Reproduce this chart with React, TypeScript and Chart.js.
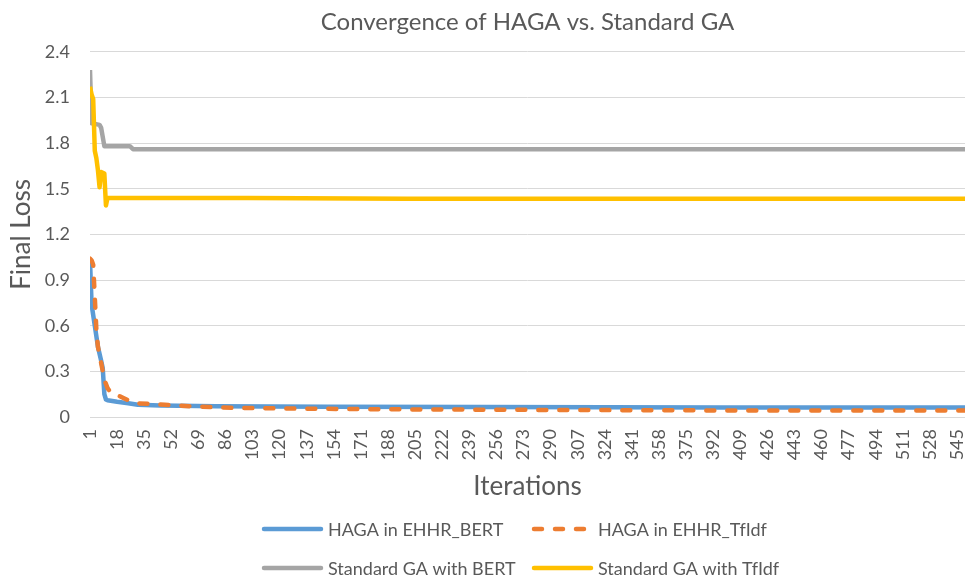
import React, { useEffect, useRef } from 'react';
import { Chart, registerables } from 'chart.js';

Chart.register(...registerables);

// ---- Data ----
const chartTitle = 'Convergence of HAGA vs. Standard GA';
const xTitle = 'Iterations';
const yTitle = 'Final Loss';

const seriesNames = [
  'HAGA in EHHR_BERT',
  'HAGA in EHHR_TfIdf',
  'Standard GA with BERT',
  'Standard GA with TfIdf',
];

const xTickLabels = [
  1, 18, 35, 52, 69, 86, 103, 120, 137, 154, 171, 188, 205, 222, 239, 256, 273,
  290, 307, 324, 341, 358, 375, 392, 409, 426, 443, 460, 477, 494, 511, 528, 545,
];
const yTickLabels = [0, 0.3, 0.6, 0.9, 1.2, 1.5, 1.8, 2.1, 2.4];
const lastIteration = 550;

const hagaBertIter = [1, 2, 4, 6, 8, 9, 10, 11, 12, 18, 25, 31, 45, 80, 150, 250, 400, 550];
const hagaBertLoss = [1.03, 0.74, 0.6, 0.46, 0.37, 0.32, 0.15, 0.115, 0.11, 0.1, 0.09, 0.08, 0.075, 0.07, 0.067, 0.065, 0.063, 0.063];

const hagaTfIdfIter = [1, 2, 3, 4, 5, 6, 8, 10, 12, 14, 20, 25, 31, 48, 69, 90, 130, 200, 300, 400, 550];
const hagaTfIdfLoss = [1.04, 1.03, 1.0, 0.79, 0.57, 0.46, 0.355, 0.245, 0.19, 0.16, 0.135, 0.11, 0.09, 0.08, 0.068, 0.06, 0.055, 0.05, 0.046, 0.043, 0.042];

const gaBertIter = [1, 2, 7, 8, 10, 26, 28, 550];
const gaBertLoss = [2.28, 1.93, 1.92, 1.9, 1.78, 1.78, 1.76, 1.76];

const gaTfIdfIter = [1, 2, 3, 4, 5, 6, 7, 8, 10, 11, 12, 100, 200, 550];
const gaTfIdfLoss = [2.17, 2.12, 2.09, 1.75, 1.7, 1.62, 1.51, 1.61, 1.6, 1.39, 1.44, 1.44, 1.435, 1.435];

const seriesColors = ['#5B9BD5', '#ED7D31', '#A5A5A5', '#FFC000'];
const textColor = '#595959';
const fontFamily = 'Lato, "Open Sans", sans-serif';

const toPoints = (xs: number[], ys: number[]) => xs.map((x, i) => ({ x, y: ys[i] }));

const legendPlugin = {
  id: 'twoRowLegend',
  afterDraw(chart: any) {
    const ctx = chart.ctx as CanvasRenderingContext2D;
    const cols = [262, 532];
    const rows = [529, 568];
    chart.data.datasets.forEach((d: any, i: number) => {
      const x = cols[i % 2];
      const y = rows[Math.floor(i / 2)];
      ctx.save();
      ctx.strokeStyle = d.borderColor;
      ctx.lineWidth = d.borderWidth;
      ctx.lineCap = 'round';
      ctx.setLineDash(d.borderDash || []);
      ctx.beginPath();
      ctx.moveTo(x + 2, y);
      ctx.lineTo(x + 59, y);
      ctx.stroke();
      ctx.setLineDash([]);
      ctx.fillStyle = textColor;
      ctx.font = `18px ${fontFamily}`;
      ctx.textBaseline = 'middle';
      ctx.textAlign = 'left';
      ctx.fillText(d.label, x + 66, y + 1);
      ctx.restore();
    });
  },
};

export default function App() {
  const ref = useRef<HTMLCanvasElement>(null);

  useEffect(() => {
    if (!ref.current) return;
    const common = {
      pointRadius: 0,
      pointHoverRadius: 0,
      borderWidth: 4.5,
      tension: 0,
      fill: false,
      borderJoinStyle: 'round' as const,
    };
    const chart = new Chart(ref.current, {
      type: 'line',
      data: {
        datasets: [
          { ...common, label: seriesNames[0], data: toPoints(hagaBertIter, hagaBertLoss), borderColor: seriesColors[0], backgroundColor: seriesColors[0], order: 4 },
          { ...common, label: seriesNames[1], data: toPoints(hagaTfIdfIter, hagaTfIdfLoss), borderColor: seriesColors[1], backgroundColor: seriesColors[1], borderDash: [8, 13], borderCapStyle: 'round', order: 3 },
          { ...common, label: seriesNames[2], data: toPoints(gaBertIter, gaBertLoss), borderColor: seriesColors[2], backgroundColor: seriesColors[2], order: 2 },
          { ...common, label: seriesNames[3], data: toPoints(gaTfIdfIter, gaTfIdfLoss), borderColor: seriesColors[3], backgroundColor: seriesColors[3], order: 1 },
        ],
      },
      options: {
        animation: false,
        responsive: true,
        maintainAspectRatio: false,
        layout: { padding: { left: 2, right: 0, top: 0, bottom: 71 } },
        plugins: {
          legend: { display: false },
          tooltip: { enabled: false },
          title: {
            display: true,
            fullSize: false,
            text: chartTitle,
            color: textColor,
            font: { family: fontFamily, size: 24, weight: 'normal' },
            padding: { top: 8, bottom: 15 },
          },
        },
        scales: {
          x: {
            type: 'linear',
            min: xTickLabels[0],
            max: lastIteration,
            grid: { display: false, drawTicks: false },
            border: { display: false },
            afterBuildTicks: (scale: any) => {
              scale.ticks = xTickLabels.map((v) => ({ value: v }));
            },
            afterFit: (scale: any) => {
              scale.height = 89;
              scale.paddingLeft = 0;
              scale.paddingRight = 0;
            },
            ticks: {
              autoSkip: false,
              minRotation: 90,
              maxRotation: 90,
              padding: 12,
              color: textColor,
              font: { family: fontFamily, size: 18 },
              callback: (v: any) => String(v),
            },
            title: {
              display: true,
              text: xTitle,
              color: textColor,
              font: { family: fontFamily, size: 26 },
              padding: { top: 4, bottom: 4 },
            },
          },
          y: {
            min: yTickLabels[0],
            max: yTickLabels[yTickLabels.length - 1],
            grid: { color: '#D9D9D9', lineWidth: 1, drawTicks: false },
            border: { display: false },
            afterBuildTicks: (scale: any) => {
              scale.ticks = yTickLabels.map((v) => ({ value: v }));
            },
            afterFit: (scale: any) => {
              scale.width = 88;
            },
            ticks: {
              padding: 20,
              color: textColor,
              font: { family: fontFamily, size: 18 },
              callback: (v: any) => (Number(v) === 0 ? '0' : Number(v).toFixed(1)),
            },
            title: {
              display: true,
              text: yTitle,
              color: textColor,
              font: { family: fontFamily, size: 26 },
              padding: { top: 4, bottom: 4 },
            },
          },
        },
      },
      plugins: [legendPlugin],
    });
    return () => chart.destroy();
  }, []);

  return (
    <div style={{ position: 'fixed', left: 0, top: 0, width: 965, height: 577, background: '#ffffff' }}>
      <canvas ref={ref} />
    </div>
  );
}
